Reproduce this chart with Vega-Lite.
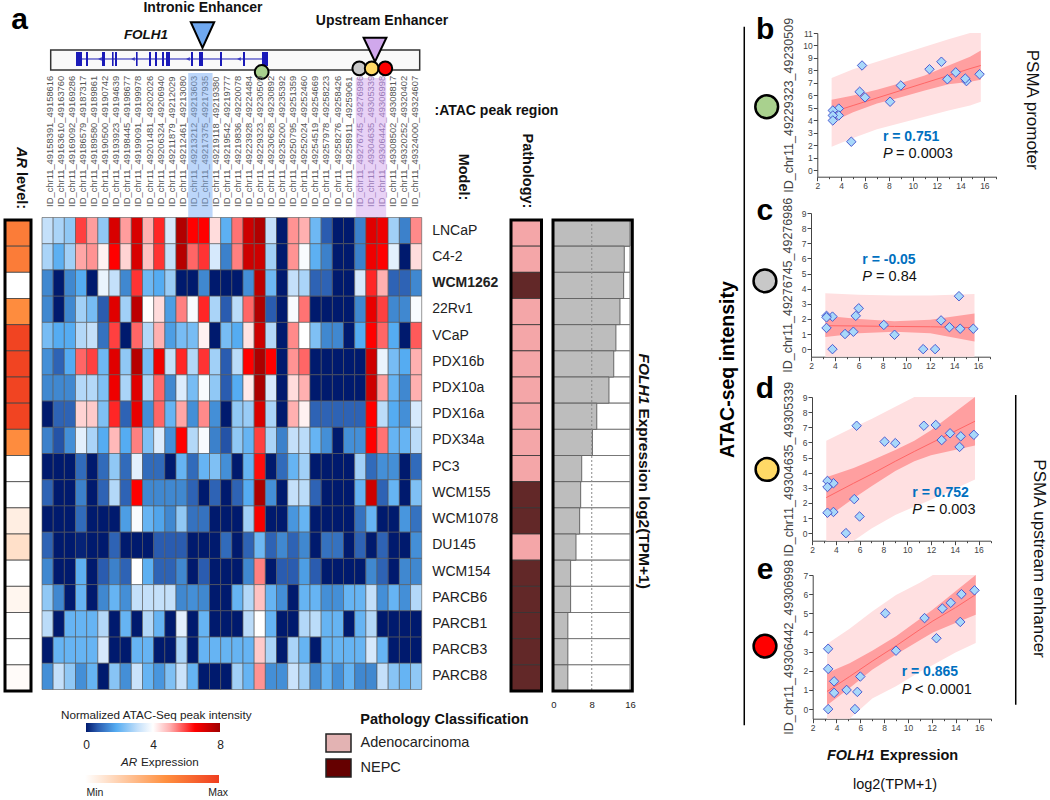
{"$schema":"https://vega.github.io/schema/vega-lite/v6.json","padding":0,"background":"white","config":{"font":"Liberation Sans","view":{"stroke":null},"axis":{"grid":false,"labelFontSize":8.5,"labelColor":"#444","tickColor":"#444","domainColor":"#444","labelOverlap":false,"labelFlush":false},"title":{"font":"Liberation Sans"}},
"datasets":{
"models":[
{"model":"LNCaP","ar":0.7,"pathology":"Adenocarcinoma","expr":16,"x":15.6,"b":7.7,"c":1.35,"d":6.5,"e":6.2},
{"model":"C4-2","ar":0.7,"pathology":"Adenocarcinoma","expr":14.8,"x":14.5,"b":7.15,"c":1.35,"d":6.4,"e":6.0},
{"model":"WCM1262","ar":0,"pathology":"NEPC","expr":14.67,"x":14.4,"b":7.35,"c":3.5,"d":5.7,"e":4.55},
{"model":"22Rv1","ar":0.62,"pathology":"Adenocarcinoma","expr":13.9,"x":13.6,"b":7.85,"c":1.45,"d":6.6,"e":5.55},
{"model":"VCaP","ar":0.97,"pathology":"Adenocarcinoma","expr":13.05,"x":12.9,"b":7.3,"c":1.9,"d":6.15,"e":5.25},
{"model":"PDX16b","ar":0.97,"pathology":"Adenocarcinoma","expr":12.6,"x":12.4,"b":8.7,"c":0,"d":7.15,"e":3.7},
{"model":"PDX10a","ar":0.97,"pathology":"Adenocarcinoma","expr":11.6,"x":11.4,"b":8.1,"c":0,"d":7.1,"e":4.75},
{"model":"PDX16a","ar":0.97,"pathology":"Adenocarcinoma","expr":9.05,"x":9,"b":6.8,"c":0.95,"d":5.95,"e":3.05},
{"model":"PDX34a","ar":0.62,"pathology":"Adenocarcinoma","expr":8.14,"x":8.1,"b":5.5,"c":1.6,"d":6.05,"e":5.0},
{"model":"PC3","ar":0,"pathology":"Adenocarcinoma","expr":5.9,"x":6,"b":5.85,"c":2.7,"d":1.1,"e":1.7},
{"model":"WCM155","ar":0,"pathology":"NEPC","expr":5.68,"x":5.75,"b":8.4,"c":2.2,"d":7.1,"e":0.9},
{"model":"WCM1078","ar":0.09,"pathology":"NEPC","expr":5.47,"x":5.55,"b":6.3,"c":1.15,"d":2.25,"e":0},
{"model":"DU145","ar":0.17,"pathology":"Adenocarcinoma","expr":4.7,"x":4.85,"b":2.3,"c":1.0,"d":0,"e":1.0},
{"model":"WCM154","ar":0,"pathology":"NEPC","expr":3.58,"x":3.8,"b":4.95,"c":2.15,"d":3.3,"e":1.45},
{"model":"PARCB6","ar":0.05,"pathology":"NEPC","expr":3.58,"x":3.8,"b":4.4,"c":0,"d":1.4,"e":0.85},
{"model":"PARCB1","ar":0,"pathology":"NEPC","expr":3.0,"x":3.3,"b":4.8,"c":2.2,"d":3.45,"e":3.15},
{"model":"PARCB3","ar":0,"pathology":"NEPC","expr":3.0,"x":3.3,"b":4.4,"c":2.1,"d":3.05,"e":2.1},
{"model":"PARCB8","ar":0.02,"pathology":"NEPC","expr":3.0,"x":3.3,"b":4.0,"c":1.4,"d":1.35,"e":0}],
"fit_b":[{"x":3.2,"ciLo":3.85,"ciHi":5.65,"piLo":1.9,"piHi":7.4,"fit":4.65},{"x":5,"ciLo":4.65,"ciHi":6.0,"piLo":2.6,"piHi":8.1,"fit":5.2},{"x":7,"ciLo":5.35,"ciHi":6.45,"piLo":3.3,"piHi":8.7,"fit":5.8},{"x":9,"ciLo":5.85,"ciHi":7.0,"piLo":3.8,"piHi":9.3,"fit":6.4},{"x":11,"ciLo":6.4,"ciHi":7.6,"piLo":4.3,"piHi":9.9,"fit":7.0},{"x":13,"ciLo":6.9,"ciHi":8.4,"piLo":4.8,"piHi":10.5,"fit":7.6},{"x":14.8,"ciLo":7.1,"ciHi":9.1,"piLo":5.2,"piHi":11,"fit":8.15},{"x":15.7,"ciLo":7.25,"ciHi":9.6,"piLo":5.5,"piHi":11,"fit":8.4}],
"fit_c":[{"x":3.2,"ciLo":0.8,"ciHi":2.2,"piLo":-0.5,"piHi":3.7,"fit":1.55},{"x":6,"ciLo":1.05,"ciHi":2.0,"piLo":-0.5,"piHi":3.6,"fit":1.53},{"x":9,"ciLo":1.15,"ciHi":1.85,"piLo":-0.5,"piHi":3.55,"fit":1.5},{"x":12,"ciLo":1.05,"ciHi":1.95,"piLo":-0.5,"piHi":3.55,"fit":1.48},{"x":15.7,"ciLo":0.5,"ciHi":2.35,"piLo":-0.5,"piHi":3.65,"fit":1.42}],
"fit_d":[{"x":3.2,"ciLo":1.0,"ciHi":3.7,"piLo":-0.5,"piHi":6.1,"fit":2.35},{"x":5.5,"ciLo":2.3,"ciHi":4.3,"piLo":-0.5,"piHi":7.0,"fit":3.3},{"x":7,"ciLo":3.1,"ciHi":4.8,"piLo":0.3,"piHi":7.55,"fit":3.9},{"x":9,"ciLo":4.1,"ciHi":5.5,"piLo":1.2,"piHi":8.35,"fit":4.75},{"x":10.6,"ciLo":4.75,"ciHi":6.1,"piLo":1.75,"piHi":9,"fit":5.4},{"x":12,"ciLo":5.15,"ciHi":6.8,"piLo":2.2,"piHi":9,"fit":5.95},{"x":15.7,"ciLo":5.8,"ciHi":9,"piLo":3.55,"piHi":9,"fit":7.4}],
"fit_e":[{"x":3.2,"ciLo":0.2,"ciHi":1.88,"piLo":-0.5,"piHi":3.4,"fit":0.92},{"x":5.1,"ciLo":1.1,"ciHi":2.4,"piLo":-0.5,"piHi":4.2,"fit":1.7},{"x":7,"ciLo":2.05,"ciHi":3.05,"piLo":0.55,"piHi":5.1,"fit":2.5},{"x":9,"ciLo":2.85,"ciHi":3.8,"piLo":1.2,"piHi":5.95,"fit":3.3},{"x":11,"ciLo":3.6,"ciHi":4.7,"piLo":1.95,"piHi":6.6,"fit":4.15},{"x":12.1,"ciLo":4.0,"ciHi":5.2,"piLo":2.3,"piHi":7,"fit":4.6},{"x":14,"ciLo":4.5,"ciHi":6.15,"piLo":2.95,"piHi":7,"fit":5.3},{"x":15.7,"ciLo":4.93,"ciHi":7,"piLo":3.45,"piHi":7,"fit":5.98}],
"atac":[
{"model":"LNCaP","col":1,"v":3.1},{"model":"LNCaP","col":2,"v":2.8},{"model":"LNCaP","col":3,"v":2.5},{"model":"LNCaP","col":4,"v":6},{"model":"LNCaP","col":5,"v":5.2},{"model":"LNCaP","col":6,"v":2.5},{"model":"LNCaP","col":7,"v":7},{"model":"LNCaP","col":8,"v":5.2},{"model":"LNCaP","col":9,"v":7},{"model":"LNCaP","col":10,"v":5},{"model":"LNCaP","col":11,"v":6.2},{"model":"LNCaP","col":12,"v":3.4},{"model":"LNCaP","col":13,"v":7.7},{"model":"LNCaP","col":14,"v":6.5},{"model":"LNCaP","col":15,"v":6.5},{"model":"LNCaP","col":16,"v":4.5},{"model":"LNCaP","col":17,"v":1.9},{"model":"LNCaP","col":18,"v":5.6},{"model":"LNCaP","col":19,"v":7.2},{"model":"LNCaP","col":20,"v":7.7},{"model":"LNCaP","col":21,"v":3.1},{"model":"LNCaP","col":22,"v":0},{"model":"LNCaP","col":23,"v":5.3},{"model":"LNCaP","col":24,"v":5},{"model":"LNCaP","col":25,"v":2.1},{"model":"LNCaP","col":26,"v":0.7},{"model":"LNCaP","col":27,"v":0},{"model":"LNCaP","col":28,"v":0},{"model":"LNCaP","col":29,"v":1.2},{"model":"LNCaP","col":30,"v":6.9},{"model":"LNCaP","col":31,"v":6.7},{"model":"LNCaP","col":32,"v":2.7},{"model":"LNCaP","col":33,"v":1.2},{"model":"LNCaP","col":34,"v":5.4},
{"model":"C4-2","col":1,"v":2.8},{"model":"C4-2","col":2,"v":1.9},{"model":"C4-2","col":3,"v":2.7},{"model":"C4-2","col":4,"v":5.1},{"model":"C4-2","col":5,"v":5.3},{"model":"C4-2","col":6,"v":4.2},{"model":"C4-2","col":7,"v":6.5},{"model":"C4-2","col":8,"v":4.6},{"model":"C4-2","col":9,"v":7},{"model":"C4-2","col":10,"v":4.8},{"model":"C4-2","col":11,"v":6.1},{"model":"C4-2","col":12,"v":3.1},{"model":"C4-2","col":13,"v":7.6},{"model":"C4-2","col":14,"v":5.7},{"model":"C4-2","col":15,"v":6.1},{"model":"C4-2","col":16,"v":3.4},{"model":"C4-2","col":17,"v":1.2},{"model":"C4-2","col":18,"v":5.5},{"model":"C4-2","col":19,"v":7.2},{"model":"C4-2","col":20,"v":7.2},{"model":"C4-2","col":21,"v":2.7},{"model":"C4-2","col":22,"v":0},{"model":"C4-2","col":23,"v":5.3},{"model":"C4-2","col":24,"v":3.9},{"model":"C4-2","col":25,"v":1.9},{"model":"C4-2","col":26,"v":1.2},{"model":"C4-2","col":27,"v":0},{"model":"C4-2","col":28,"v":0},{"model":"C4-2","col":29,"v":1.2},{"model":"C4-2","col":30,"v":6.7},{"model":"C4-2","col":31,"v":6.5},{"model":"C4-2","col":32,"v":3.6},{"model":"C4-2","col":33,"v":0},{"model":"C4-2","col":34,"v":4.5},
{"model":"WCM1262","col":1,"v":1.3},{"model":"WCM1262","col":2,"v":0},{"model":"WCM1262","col":3,"v":1.3},{"model":"WCM1262","col":4,"v":1.8},{"model":"WCM1262","col":5,"v":0},{"model":"WCM1262","col":6,"v":3.7},{"model":"WCM1262","col":7,"v":3.1},{"model":"WCM1262","col":8,"v":1.3},{"model":"WCM1262","col":9,"v":6.1},{"model":"WCM1262","col":10,"v":2.1},{"model":"WCM1262","col":11,"v":1.8},{"model":"WCM1262","col":12,"v":2.6},{"model":"WCM1262","col":13,"v":0},{"model":"WCM1262","col":14,"v":0},{"model":"WCM1262","col":15,"v":1.3},{"model":"WCM1262","col":16,"v":0},{"model":"WCM1262","col":17,"v":0},{"model":"WCM1262","col":18,"v":0},{"model":"WCM1262","col":19,"v":1.4},{"model":"WCM1262","col":20,"v":7.5},{"model":"WCM1262","col":21,"v":2.1},{"model":"WCM1262","col":22,"v":0},{"model":"WCM1262","col":23,"v":3.1},{"model":"WCM1262","col":24,"v":2.8},{"model":"WCM1262","col":25,"v":0.8},{"model":"WCM1262","col":26,"v":0.8},{"model":"WCM1262","col":27,"v":0},{"model":"WCM1262","col":28,"v":0},{"model":"WCM1262","col":29,"v":3.4},{"model":"WCM1262","col":30,"v":6.2},{"model":"WCM1262","col":31,"v":5},{"model":"WCM1262","col":32,"v":0.8},{"model":"WCM1262","col":33,"v":0.8},{"model":"WCM1262","col":34,"v":1.3},
{"model":"22Rv1","col":1,"v":1.3},{"model":"22Rv1","col":2,"v":0},{"model":"22Rv1","col":3,"v":1.3},{"model":"22Rv1","col":4,"v":2.7},{"model":"22Rv1","col":5,"v":2.2},{"model":"22Rv1","col":6,"v":0.7},{"model":"22Rv1","col":7,"v":6.9},{"model":"22Rv1","col":8,"v":2.7},{"model":"22Rv1","col":9,"v":7.5},{"model":"22Rv1","col":10,"v":4},{"model":"22Rv1","col":11,"v":4.5},{"model":"22Rv1","col":12,"v":1.6},{"model":"22Rv1","col":13,"v":5.5},{"model":"22Rv1","col":14,"v":3.9},{"model":"22Rv1","col":15,"v":6.2},{"model":"22Rv1","col":16,"v":2.8},{"model":"22Rv1","col":17,"v":0.7},{"model":"22Rv1","col":18,"v":3},{"model":"22Rv1","col":19,"v":5.7},{"model":"22Rv1","col":20,"v":7.7},{"model":"22Rv1","col":21,"v":0.7},{"model":"22Rv1","col":22,"v":0},{"model":"22Rv1","col":23,"v":3.9},{"model":"22Rv1","col":24,"v":5.6},{"model":"22Rv1","col":25,"v":0},{"model":"22Rv1","col":26,"v":0},{"model":"22Rv1","col":27,"v":0},{"model":"22Rv1","col":28,"v":0},{"model":"22Rv1","col":29,"v":1.3},{"model":"22Rv1","col":30,"v":6.8},{"model":"22Rv1","col":31,"v":6},{"model":"22Rv1","col":32,"v":1.3},{"model":"22Rv1","col":33,"v":1.3},{"model":"22Rv1","col":34,"v":3.9},
{"model":"VCaP","col":1,"v":2.2},{"model":"VCaP","col":2,"v":1.8},{"model":"VCaP","col":3,"v":1.8},{"model":"VCaP","col":4,"v":2.9},{"model":"VCaP","col":5,"v":3.1},{"model":"VCaP","col":6,"v":1},{"model":"VCaP","col":7,"v":6},{"model":"VCaP","col":8,"v":0},{"model":"VCaP","col":9,"v":5.7},{"model":"VCaP","col":10,"v":2.9},{"model":"VCaP","col":11,"v":5},{"model":"VCaP","col":12,"v":1.6},{"model":"VCaP","col":13,"v":2.2},{"model":"VCaP","col":14,"v":2.2},{"model":"VCaP","col":15,"v":4.2},{"model":"VCaP","col":16,"v":0},{"model":"VCaP","col":17,"v":2.2},{"model":"VCaP","col":18,"v":1.8},{"model":"VCaP","col":19,"v":4.4},{"model":"VCaP","col":20,"v":7.2},{"model":"VCaP","col":21,"v":2.9},{"model":"VCaP","col":22,"v":0},{"model":"VCaP","col":23,"v":5.4},{"model":"VCaP","col":24,"v":4},{"model":"VCaP","col":25,"v":2.3},{"model":"VCaP","col":26,"v":1.3},{"model":"VCaP","col":27,"v":1.3},{"model":"VCaP","col":28,"v":0},{"model":"VCaP","col":29,"v":1.8},{"model":"VCaP","col":30,"v":6.5},{"model":"VCaP","col":31,"v":5.7},{"model":"VCaP","col":32,"v":1.8},{"model":"VCaP","col":33,"v":0},{"model":"VCaP","col":34,"v":5.8},
{"model":"PDX16b","col":1,"v":1.4},{"model":"PDX16b","col":2,"v":0.8},{"model":"PDX16b","col":3,"v":1.8},{"model":"PDX16b","col":4,"v":5.7},{"model":"PDX16b","col":5,"v":6},{"model":"PDX16b","col":6,"v":2.1},{"model":"PDX16b","col":7,"v":6.9},{"model":"PDX16b","col":8,"v":2.5},{"model":"PDX16b","col":9,"v":7.6},{"model":"PDX16b","col":10,"v":2.2},{"model":"PDX16b","col":11,"v":6.7},{"model":"PDX16b","col":12,"v":3.1},{"model":"PDX16b","col":13,"v":6.2},{"model":"PDX16b","col":14,"v":2.9},{"model":"PDX16b","col":15,"v":6.1},{"model":"PDX16b","col":16,"v":2.7},{"model":"PDX16b","col":17,"v":0.7},{"model":"PDX16b","col":18,"v":3},{"model":"PDX16b","col":19,"v":6.5},{"model":"PDX16b","col":20,"v":7.8},{"model":"PDX16b","col":21,"v":6.5},{"model":"PDX16b","col":22,"v":0},{"model":"PDX16b","col":23,"v":5.3},{"model":"PDX16b","col":24,"v":5.7},{"model":"PDX16b","col":25,"v":0},{"model":"PDX16b","col":26,"v":0},{"model":"PDX16b","col":27,"v":0},{"model":"PDX16b","col":28,"v":0},{"model":"PDX16b","col":29,"v":0},{"model":"PDX16b","col":30,"v":7.2},{"model":"PDX16b","col":31,"v":3.7},{"model":"PDX16b","col":32,"v":2.2},{"model":"PDX16b","col":33,"v":1.8},{"model":"PDX16b","col":34,"v":5},
{"model":"PDX10a","col":1,"v":1.3},{"model":"PDX10a","col":2,"v":1.3},{"model":"PDX10a","col":3,"v":1.3},{"model":"PDX10a","col":4,"v":2.9},{"model":"PDX10a","col":5,"v":2.9},{"model":"PDX10a","col":6,"v":2.3},{"model":"PDX10a","col":7,"v":6.7},{"model":"PDX10a","col":8,"v":2.8},{"model":"PDX10a","col":9,"v":6.9},{"model":"PDX10a","col":10,"v":2.8},{"model":"PDX10a","col":11,"v":5.7},{"model":"PDX10a","col":12,"v":1.3},{"model":"PDX10a","col":13,"v":3.5},{"model":"PDX10a","col":14,"v":2.2},{"model":"PDX10a","col":15,"v":3.9},{"model":"PDX10a","col":16,"v":2.5},{"model":"PDX10a","col":17,"v":0.7},{"model":"PDX10a","col":18,"v":1.8},{"model":"PDX10a","col":19,"v":4.3},{"model":"PDX10a","col":20,"v":7.8},{"model":"PDX10a","col":21,"v":3.4},{"model":"PDX10a","col":22,"v":0},{"model":"PDX10a","col":23,"v":4.5},{"model":"PDX10a","col":24,"v":5},{"model":"PDX10a","col":25,"v":0},{"model":"PDX10a","col":26,"v":0},{"model":"PDX10a","col":27,"v":0},{"model":"PDX10a","col":28,"v":0},{"model":"PDX10a","col":29,"v":0},{"model":"PDX10a","col":30,"v":7.2},{"model":"PDX10a","col":31,"v":5.2},{"model":"PDX10a","col":32,"v":2},{"model":"PDX10a","col":33,"v":1.3},{"model":"PDX10a","col":34,"v":5},
{"model":"PDX16a","col":1,"v":0},{"model":"PDX16a","col":2,"v":0.8},{"model":"PDX16a","col":3,"v":0.8},{"model":"PDX16a","col":4,"v":4.6},{"model":"PDX16a","col":5,"v":4.7},{"model":"PDX16a","col":6,"v":2.3},{"model":"PDX16a","col":7,"v":6.2},{"model":"PDX16a","col":8,"v":0.8},{"model":"PDX16a","col":9,"v":6.8},{"model":"PDX16a","col":10,"v":1.4},{"model":"PDX16a","col":11,"v":5.7},{"model":"PDX16a","col":12,"v":2},{"model":"PDX16a","col":13,"v":5.1},{"model":"PDX16a","col":14,"v":1.4},{"model":"PDX16a","col":15,"v":5.4},{"model":"PDX16a","col":16,"v":1.4},{"model":"PDX16a","col":17,"v":0},{"model":"PDX16a","col":18,"v":2.5},{"model":"PDX16a","col":19,"v":2.6},{"model":"PDX16a","col":20,"v":7},{"model":"PDX16a","col":21,"v":2.8},{"model":"PDX16a","col":22,"v":0},{"model":"PDX16a","col":23,"v":5},{"model":"PDX16a","col":24,"v":4.2},{"model":"PDX16a","col":25,"v":0.8},{"model":"PDX16a","col":26,"v":0.8},{"model":"PDX16a","col":27,"v":0.8},{"model":"PDX16a","col":28,"v":0.8},{"model":"PDX16a","col":29,"v":0.8},{"model":"PDX16a","col":30,"v":6.5},{"model":"PDX16a","col":31,"v":3},{"model":"PDX16a","col":32,"v":1.8},{"model":"PDX16a","col":33,"v":1.4},{"model":"PDX16a","col":34,"v":3.4},
{"model":"PDX34a","col":1,"v":1.2},{"model":"PDX34a","col":2,"v":0.6},{"model":"PDX34a","col":3,"v":1.4},{"model":"PDX34a","col":4,"v":3.6},{"model":"PDX34a","col":5,"v":2.8},{"model":"PDX34a","col":6,"v":1.8},{"model":"PDX34a","col":7,"v":4.9},{"model":"PDX34a","col":8,"v":1.8},{"model":"PDX34a","col":9,"v":5.5},{"model":"PDX34a","col":10,"v":2.3},{"model":"PDX34a","col":11,"v":3.5},{"model":"PDX34a","col":12,"v":1.4},{"model":"PDX34a","col":13,"v":6.5},{"model":"PDX34a","col":14,"v":2.9},{"model":"PDX34a","col":15,"v":3.9},{"model":"PDX34a","col":16,"v":1.2},{"model":"PDX34a","col":17,"v":0.6},{"model":"PDX34a","col":18,"v":2.5},{"model":"PDX34a","col":19,"v":2},{"model":"PDX34a","col":20,"v":6},{"model":"PDX34a","col":21,"v":2.8},{"model":"PDX34a","col":22,"v":1.2},{"model":"PDX34a","col":23,"v":3.1},{"model":"PDX34a","col":24,"v":3},{"model":"PDX34a","col":25,"v":2},{"model":"PDX34a","col":26,"v":1.4},{"model":"PDX34a","col":27,"v":0},{"model":"PDX34a","col":28,"v":1.4},{"model":"PDX34a","col":29,"v":1.4},{"model":"PDX34a","col":30,"v":6.5},{"model":"PDX34a","col":31,"v":5.6},{"model":"PDX34a","col":32,"v":2},{"model":"PDX34a","col":33,"v":2},{"model":"PDX34a","col":34,"v":3},
{"model":"PC3","col":1,"v":0},{"model":"PC3","col":2,"v":0},{"model":"PC3","col":3,"v":0},{"model":"PC3","col":4,"v":0.9},{"model":"PC3","col":5,"v":0},{"model":"PC3","col":6,"v":0.9},{"model":"PC3","col":7,"v":2.5},{"model":"PC3","col":8,"v":0.9},{"model":"PC3","col":9,"v":3.6},{"model":"PC3","col":10,"v":0.9},{"model":"PC3","col":11,"v":0.9},{"model":"PC3","col":12,"v":0},{"model":"PC3","col":13,"v":2},{"model":"PC3","col":14,"v":0.9},{"model":"PC3","col":15,"v":2},{"model":"PC3","col":16,"v":2.3},{"model":"PC3","col":17,"v":1.4},{"model":"PC3","col":18,"v":0},{"model":"PC3","col":19,"v":2},{"model":"PC3","col":20,"v":6.4},{"model":"PC3","col":21,"v":0},{"model":"PC3","col":22,"v":0.9},{"model":"PC3","col":23,"v":2},{"model":"PC3","col":24,"v":2.7},{"model":"PC3","col":25,"v":0},{"model":"PC3","col":26,"v":0},{"model":"PC3","col":27,"v":0},{"model":"PC3","col":28,"v":0},{"model":"PC3","col":29,"v":2.7},{"model":"PC3","col":30,"v":0.9},{"model":"PC3","col":31,"v":1.4},{"model":"PC3","col":32,"v":1.4},{"model":"PC3","col":33,"v":0},{"model":"PC3","col":34,"v":0.9},
{"model":"WCM155","col":1,"v":0.8},{"model":"WCM155","col":2,"v":0},{"model":"WCM155","col":3,"v":0},{"model":"WCM155","col":4,"v":1.2},{"model":"WCM155","col":5,"v":0},{"model":"WCM155","col":6,"v":0.8},{"model":"WCM155","col":7,"v":2.9},{"model":"WCM155","col":8,"v":0.8},{"model":"WCM155","col":9,"v":6.5},{"model":"WCM155","col":10,"v":1.3},{"model":"WCM155","col":11,"v":1.3},{"model":"WCM155","col":12,"v":1.3},{"model":"WCM155","col":13,"v":1.3},{"model":"WCM155","col":14,"v":0.8},{"model":"WCM155","col":15,"v":0},{"model":"WCM155","col":16,"v":0.8},{"model":"WCM155","col":17,"v":0},{"model":"WCM155","col":18,"v":0.8},{"model":"WCM155","col":19,"v":1.8},{"model":"WCM155","col":20,"v":7.8},{"model":"WCM155","col":21,"v":1.4},{"model":"WCM155","col":22,"v":0},{"model":"WCM155","col":23,"v":3.1},{"model":"WCM155","col":24,"v":3},{"model":"WCM155","col":25,"v":0.8},{"model":"WCM155","col":26,"v":0},{"model":"WCM155","col":27,"v":0},{"model":"WCM155","col":28,"v":0},{"model":"WCM155","col":29,"v":2},{"model":"WCM155","col":30,"v":7.2},{"model":"WCM155","col":31,"v":0.8},{"model":"WCM155","col":32,"v":2},{"model":"WCM155","col":33,"v":0},{"model":"WCM155","col":34,"v":2.3},
{"model":"WCM1078","col":1,"v":0},{"model":"WCM1078","col":2,"v":0},{"model":"WCM1078","col":3,"v":0},{"model":"WCM1078","col":4,"v":0.9},{"model":"WCM1078","col":5,"v":0},{"model":"WCM1078","col":6,"v":0},{"model":"WCM1078","col":7,"v":0},{"model":"WCM1078","col":8,"v":1.6},{"model":"WCM1078","col":9,"v":3.9},{"model":"WCM1078","col":10,"v":2},{"model":"WCM1078","col":11,"v":1.7},{"model":"WCM1078","col":12,"v":1.3},{"model":"WCM1078","col":13,"v":2.5},{"model":"WCM1078","col":14,"v":1},{"model":"WCM1078","col":15,"v":1},{"model":"WCM1078","col":16,"v":0},{"model":"WCM1078","col":17,"v":0},{"model":"WCM1078","col":18,"v":0},{"model":"WCM1078","col":19,"v":2.7},{"model":"WCM1078","col":20,"v":6.6},{"model":"WCM1078","col":21,"v":0},{"model":"WCM1078","col":22,"v":0},{"model":"WCM1078","col":23,"v":1.5},{"model":"WCM1078","col":24,"v":2},{"model":"WCM1078","col":25,"v":0},{"model":"WCM1078","col":26,"v":0},{"model":"WCM1078","col":27,"v":0},{"model":"WCM1078","col":28,"v":0},{"model":"WCM1078","col":29,"v":1},{"model":"WCM1078","col":30,"v":2},{"model":"WCM1078","col":31,"v":0},{"model":"WCM1078","col":32,"v":0},{"model":"WCM1078","col":33,"v":1.5},{"model":"WCM1078","col":34,"v":1},
{"model":"DU145","col":1,"v":0.8},{"model":"DU145","col":2,"v":0},{"model":"DU145","col":3,"v":0},{"model":"DU145","col":4,"v":0.1},{"model":"DU145","col":5,"v":0},{"model":"DU145","col":6,"v":0},{"model":"DU145","col":7,"v":0.8},{"model":"DU145","col":8,"v":0},{"model":"DU145","col":9,"v":0},{"model":"DU145","col":10,"v":0},{"model":"DU145","col":11,"v":0.7},{"model":"DU145","col":12,"v":0.7},{"model":"DU145","col":13,"v":0.7},{"model":"DU145","col":14,"v":0},{"model":"DU145","col":15,"v":0},{"model":"DU145","col":16,"v":0},{"model":"DU145","col":17,"v":0.9},{"model":"DU145","col":18,"v":0},{"model":"DU145","col":19,"v":0.8},{"model":"DU145","col":20,"v":2.1},{"model":"DU145","col":21,"v":0.8},{"model":"DU145","col":22,"v":1.3},{"model":"DU145","col":23,"v":0.8},{"model":"DU145","col":24,"v":1.3},{"model":"DU145","col":25,"v":0},{"model":"DU145","col":26,"v":1},{"model":"DU145","col":27,"v":1},{"model":"DU145","col":28,"v":0},{"model":"DU145","col":29,"v":0.8},{"model":"DU145","col":30,"v":0},{"model":"DU145","col":31,"v":0.8},{"model":"DU145","col":32,"v":0},{"model":"DU145","col":33,"v":0},{"model":"DU145","col":34,"v":1.4},
{"model":"WCM154","col":1,"v":1.3},{"model":"WCM154","col":2,"v":0},{"model":"WCM154","col":3,"v":0},{"model":"WCM154","col":4,"v":1.9},{"model":"WCM154","col":5,"v":0},{"model":"WCM154","col":6,"v":0.7},{"model":"WCM154","col":7,"v":1.2},{"model":"WCM154","col":8,"v":0.8},{"model":"WCM154","col":9,"v":4},{"model":"WCM154","col":10,"v":1.9},{"model":"WCM154","col":11,"v":0.8},{"model":"WCM154","col":12,"v":0.8},{"model":"WCM154","col":13,"v":1.3},{"model":"WCM154","col":14,"v":0},{"model":"WCM154","col":15,"v":0.7},{"model":"WCM154","col":16,"v":0},{"model":"WCM154","col":17,"v":0},{"model":"WCM154","col":18,"v":0},{"model":"WCM154","col":19,"v":1.3},{"model":"WCM154","col":20,"v":5.5},{"model":"WCM154","col":21,"v":0},{"model":"WCM154","col":22,"v":0.7},{"model":"WCM154","col":23,"v":0.7},{"model":"WCM154","col":24,"v":1.6},{"model":"WCM154","col":25,"v":0.7},{"model":"WCM154","col":26,"v":0},{"model":"WCM154","col":27,"v":0},{"model":"WCM154","col":28,"v":0},{"model":"WCM154","col":29,"v":0},{"model":"WCM154","col":30,"v":1.3},{"model":"WCM154","col":31,"v":0.8},{"model":"WCM154","col":32,"v":0},{"model":"WCM154","col":33,"v":1.3},{"model":"WCM154","col":34,"v":1.3},
{"model":"PARCB6","col":1,"v":2.5},{"model":"PARCB6","col":2,"v":1.3},{"model":"PARCB6","col":3,"v":0},{"model":"PARCB6","col":4,"v":2},{"model":"PARCB6","col":5,"v":0},{"model":"PARCB6","col":6,"v":1.3},{"model":"PARCB6","col":7,"v":2},{"model":"PARCB6","col":8,"v":1.4},{"model":"PARCB6","col":9,"v":3.1},{"model":"PARCB6","col":10,"v":3.1},{"model":"PARCB6","col":11,"v":3.1},{"model":"PARCB6","col":12,"v":3.1},{"model":"PARCB6","col":13,"v":1.3},{"model":"PARCB6","col":14,"v":1.4},{"model":"PARCB6","col":15,"v":1.3},{"model":"PARCB6","col":16,"v":0},{"model":"PARCB6","col":17,"v":0},{"model":"PARCB6","col":18,"v":2},{"model":"PARCB6","col":19,"v":2.9},{"model":"PARCB6","col":20,"v":4.8},{"model":"PARCB6","col":21,"v":2},{"model":"PARCB6","col":22,"v":1.4},{"model":"PARCB6","col":23,"v":0},{"model":"PARCB6","col":24,"v":2},{"model":"PARCB6","col":25,"v":2},{"model":"PARCB6","col":26,"v":1.4},{"model":"PARCB6","col":27,"v":1.4},{"model":"PARCB6","col":28,"v":2},{"model":"PARCB6","col":29,"v":2},{"model":"PARCB6","col":30,"v":3.1},{"model":"PARCB6","col":31,"v":1.4},{"model":"PARCB6","col":32,"v":2},{"model":"PARCB6","col":33,"v":1.4},{"model":"PARCB6","col":34,"v":2.9},
{"model":"PARCB1","col":1,"v":3},{"model":"PARCB1","col":2,"v":0},{"model":"PARCB1","col":3,"v":2},{"model":"PARCB1","col":4,"v":2},{"model":"PARCB1","col":5,"v":2},{"model":"PARCB1","col":6,"v":2.9},{"model":"PARCB1","col":7,"v":0},{"model":"PARCB1","col":8,"v":2},{"model":"PARCB1","col":9,"v":0},{"model":"PARCB1","col":10,"v":2.9},{"model":"PARCB1","col":11,"v":2},{"model":"PARCB1","col":12,"v":0},{"model":"PARCB1","col":13,"v":3.6},{"model":"PARCB1","col":14,"v":0},{"model":"PARCB1","col":15,"v":2},{"model":"PARCB1","col":16,"v":0},{"model":"PARCB1","col":17,"v":0},{"model":"PARCB1","col":18,"v":0},{"model":"PARCB1","col":19,"v":3},{"model":"PARCB1","col":20,"v":4},{"model":"PARCB1","col":21,"v":2},{"model":"PARCB1","col":22,"v":0},{"model":"PARCB1","col":23,"v":0},{"model":"PARCB1","col":24,"v":2.9},{"model":"PARCB1","col":25,"v":3},{"model":"PARCB1","col":26,"v":2},{"model":"PARCB1","col":27,"v":2},{"model":"PARCB1","col":28,"v":0},{"model":"PARCB1","col":29,"v":2},{"model":"PARCB1","col":30,"v":2.9},{"model":"PARCB1","col":31,"v":0},{"model":"PARCB1","col":32,"v":0},{"model":"PARCB1","col":33,"v":0},{"model":"PARCB1","col":34,"v":0},
{"model":"PARCB3","col":1,"v":0},{"model":"PARCB3","col":2,"v":2},{"model":"PARCB3","col":3,"v":2},{"model":"PARCB3","col":4,"v":2},{"model":"PARCB3","col":5,"v":2},{"model":"PARCB3","col":6,"v":3.4},{"model":"PARCB3","col":7,"v":0},{"model":"PARCB3","col":8,"v":0},{"model":"PARCB3","col":9,"v":2},{"model":"PARCB3","col":10,"v":2},{"model":"PARCB3","col":11,"v":0},{"model":"PARCB3","col":12,"v":0},{"model":"PARCB3","col":13,"v":2.8},{"model":"PARCB3","col":14,"v":0},{"model":"PARCB3","col":15,"v":2},{"model":"PARCB3","col":16,"v":2},{"model":"PARCB3","col":17,"v":2},{"model":"PARCB3","col":18,"v":2},{"model":"PARCB3","col":19,"v":2},{"model":"PARCB3","col":20,"v":4.7},{"model":"PARCB3","col":21,"v":2.8},{"model":"PARCB3","col":22,"v":0},{"model":"PARCB3","col":23,"v":2.8},{"model":"PARCB3","col":24,"v":2},{"model":"PARCB3","col":25,"v":0},{"model":"PARCB3","col":26,"v":2},{"model":"PARCB3","col":27,"v":2},{"model":"PARCB3","col":28,"v":2},{"model":"PARCB3","col":29,"v":2},{"model":"PARCB3","col":30,"v":3.4},{"model":"PARCB3","col":31,"v":2},{"model":"PARCB3","col":32,"v":0},{"model":"PARCB3","col":33,"v":0},{"model":"PARCB3","col":34,"v":0},
{"model":"PARCB8","col":1,"v":1.4},{"model":"PARCB8","col":2,"v":3.1},{"model":"PARCB8","col":3,"v":2.5},{"model":"PARCB8","col":4,"v":1.4},{"model":"PARCB8","col":5,"v":2},{"model":"PARCB8","col":6,"v":0},{"model":"PARCB8","col":7,"v":2.4},{"model":"PARCB8","col":8,"v":1.4},{"model":"PARCB8","col":9,"v":3.2},{"model":"PARCB8","col":10,"v":2},{"model":"PARCB8","col":11,"v":1.5},{"model":"PARCB8","col":12,"v":2.3},{"model":"PARCB8","col":13,"v":3.2},{"model":"PARCB8","col":14,"v":2},{"model":"PARCB8","col":15,"v":0},{"model":"PARCB8","col":16,"v":0},{"model":"PARCB8","col":17,"v":0},{"model":"PARCB8","col":18,"v":2.7},{"model":"PARCB8","col":19,"v":2},{"model":"PARCB8","col":20,"v":5.3},{"model":"PARCB8","col":21,"v":1.4},{"model":"PARCB8","col":22,"v":1.4},{"model":"PARCB8","col":23,"v":3.2},{"model":"PARCB8","col":24,"v":2.7},{"model":"PARCB8","col":25,"v":1.3},{"model":"PARCB8","col":26,"v":2},{"model":"PARCB8","col":27,"v":1.4},{"model":"PARCB8","col":28,"v":2},{"model":"PARCB8","col":29,"v":1.3},{"model":"PARCB8","col":30,"v":1.3},{"model":"PARCB8","col":31,"v":3.1},{"model":"PARCB8","col":32,"v":2.4},{"model":"PARCB8","col":33,"v":2},{"model":"PARCB8","col":34,"v":2.5}]
},
"bounds":"flush","spacing":811,"resolve":{"scale":{"fill":"independent","color":"independent"}},
"hconcat":[
{"bounds":"flush","spacing":0,"resolve":{"scale":{"fill":"independent","color":"independent"}},"vconcat":[
{"width":640,"height":72,"layer":[
{"data":{"values":[{"from":49150.35,"to":49334.85,"top":0.3056,"bottom":0.0278}]},"mark":{"type":"rect","fill":"#f9f9f9","stroke":"#333","strokeWidth":1.5},"encoding":{"x":{"field":"from","type":"quantitative","scale":{"domain":[49125,49445],"nice":false,"zero":false},"axis":null},"x2":{"field":"to"},"y":{"field":"top","type":"quantitative","scale":{"domain":[0,1],"nice":false,"zero":false},"axis":null},"y2":{"field":"bottom"}}},
{"data":{"values":[{"from":49163,"to":49259,"lane":0.1806}]},"mark":{"type":"rule","color":"#1a1ab8","strokeWidth":1},"encoding":{"x":{"field":"from","type":"quantitative","axis":null},"x2":{"field":"to"},"y":{"field":"lane","type":"quantitative","axis":null}}},
{"data":{"values":[{"from":49163,"to":49166},{"from":49168,"to":49169},{"from":49176,"to":49177.5},{"from":49181,"to":49181.8},{"from":49182.5,"to":49183.5},{"from":49193,"to":49193.8},{"from":49199.5,"to":49200.5},{"from":49202.5,"to":49203.5},{"from":49206,"to":49207},{"from":49208,"to":49210},{"from":49220.5,"to":49221.5},{"from":49224.5,"to":49226.5},{"from":49235,"to":49236},{"from":49246.5,"to":49247.5},{"from":49256,"to":49259}]},"mark":{"type":"rect","fill":"#1a1ab8"},"encoding":{"x":{"field":"from","type":"quantitative","axis":null},"x2":{"field":"to"},"y":{"datum":0.2778,"axis":null},"y2":{"datum":0.0833}}},
{"data":{"values":[{"pos":49175},{"pos":49191.5},{"pos":49219},{"pos":49244.5}]},"mark":{"type":"point","shape":"triangle-left","filled":true,"color":"#1a1ab8","size":18},"encoding":{"x":{"field":"pos","type":"quantitative","axis":null},"y":{"datum":0.1806,"axis":null}}},
{"data":{"values":[{"pos":49226.25,"lane":0.514}]},"mark":{"type":"point","shape":"M-1,-1.1L1,-1.1L0,1.1Z","filled":true,"fill":"#6fa8f0","stroke":"#000","strokeWidth":2,"opacity":1,"size":547},"encoding":{"x":{"field":"pos","type":"quantitative","axis":null},"y":{"field":"lane","type":"quantitative","axis":null}}},
{"data":{"values":[{"pos":49312.5,"lane":0.31}]},"mark":{"type":"point","shape":"M-1,-1.05L1,-1.05L0,1.05Z","filled":true,"fill":"#d0a8ec","stroke":"#000","strokeWidth":2,"opacity":1,"size":520},"encoding":{"x":{"field":"pos","type":"quantitative","axis":null},"y":{"field":"lane","type":"quantitative","axis":null}}},
{"data":{"values":[{"pos":49255.85,"lane":0,"peak":"promoter"},{"pos":49304.65,"lane":0.051,"peak":"grey"},{"pos":49310.85,"lane":0.051,"peak":"yellow"},{"pos":49317.65,"lane":0.051,"peak":"red"}]},"mark":{"type":"point","shape":"circle","filled":true,"stroke":"#000","strokeWidth":2,"opacity":1,"size":190},"encoding":{"x":{"field":"pos","type":"quantitative","axis":null},"y":{"field":"lane","type":"quantitative","axis":null},"fill":{"field":"peak","type":"nominal","legend":null,"scale":{"domain":["promoter","grey","yellow","red"],"range":["#a9d18e","#c8c8c8","#ffd966","#ff0000"]}}}},
{"data":{"values":[{"label":"Intronic Enhancer","pos":49226.5,"lane":0.889},{"label":"Upstream Enhancer","pos":49316,"lane":0.708}]},"mark":{"type":"text","fontWeight":"bold","fontSize":14,"align":"center","baseline":"middle","color":"#111"},"encoding":{"x":{"field":"pos","type":"quantitative","axis":null},"y":{"field":"lane","type":"quantitative","axis":null},"text":{"field":"label"}}},
{"data":{"values":[{"label":"FOLH1","pos":49198,"lane":0.514}]},"mark":{"type":"text","fontWeight":"bold","fontStyle":"italic","fontSize":13.5,"align":"center","baseline":"middle","color":"#111"},"encoding":{"x":{"field":"pos","type":"quantitative","axis":null},"y":{"field":"lane","type":"quantitative","axis":null},"text":{"field":"label"}}},
{"data":{"values":[{"label":"a","pos":49134.75,"lane":0.722}]},"mark":{"type":"text","fontWeight":"bold","fontSize":30,"align":"center","baseline":"middle","color":"#000"},"encoding":{"x":{"field":"pos","type":"quantitative","axis":null},"y":{"field":"lane","type":"quantitative","axis":null},"text":{"field":"label"}}}
]},
{"width":640,"height":147.5,"layer":[
{"data":{"values":[{"region":"intronic","from":13.5,"to":15.7,"top":0.993},{"region":"upstream","from":28.65,"to":31.4,"top":0.96}]},"mark":{"type":"rect"},"encoding":{"x":{"field":"from","type":"quantitative","scale":{"domain":[-3.52,54.35],"nice":false,"zero":false},"axis":null},"x2":{"field":"to"},"y":{"field":"top","type":"quantitative","scale":{"domain":[0,1],"nice":false,"zero":false},"axis":null},"y2":{"datum":0},"fill":{"field":"region","type":"nominal","legend":null,"scale":{"domain":["intronic","upstream"],"range":["#bcd6fa","#e8d2f6"]}}}},
{"data":{"values":[
{"col":1,"id":"ID_chr11_49158391_49158616","region":"none"},{"col":2,"id":"ID_chr11_49163610_49163760","region":"none"},{"col":3,"id":"ID_chr11_49169092_49169286","region":"none"},{"col":4,"id":"ID_chr11_49186579_49187317","region":"none"},{"col":5,"id":"ID_chr11_49189580_49189861","region":"none"},{"col":6,"id":"ID_chr11_49190500_49190742","region":"none"},{"col":7,"id":"ID_chr11_49193923_49194639","region":"none"},{"col":8,"id":"ID_chr11_49198445_49198677","region":"none"},{"col":9,"id":"ID_chr11_49199091_49199978","region":"none"},{"col":10,"id":"ID_chr11_49201481_49202026","region":"none"},{"col":11,"id":"ID_chr11_49206324_49206940","region":"none"},{"col":12,"id":"ID_chr11_49211879_49212029","region":"none"},{"col":13,"id":"ID_chr11_49212461_49213080","region":"none"},{"col":14,"id":"ID_chr11_49213212_49213603","region":"intronic"},{"col":15,"id":"ID_chr11_49217375_49217935","region":"intronic"},{"col":16,"id":"ID_chr11_49219118_49219380","region":"none"},{"col":17,"id":"ID_chr11_49219542_49219777","region":"none"},{"col":18,"id":"ID_chr11_49219836_49220078","region":"none"},{"col":19,"id":"ID_chr11_49223928_49224484","region":"none"},{"col":20,"id":"ID_chr11_49229323_49230509","region":"none"},{"col":21,"id":"ID_chr11_49230628_49230892","region":"none"},{"col":22,"id":"ID_chr11_49235200_49235392","region":"none"},{"col":23,"id":"ID_chr11_49250795_49251359","region":"none"},{"col":24,"id":"ID_chr11_49252024_49252460","region":"none"},{"col":25,"id":"ID_chr11_49254519_49254669","region":"none"},{"col":26,"id":"ID_chr11_49257978_49258223","region":"none"},{"col":27,"id":"ID_chr11_49258276_49258426","region":"none"},{"col":28,"id":"ID_chr11_49258911_49259061","region":"none"},{"col":29,"id":"ID_chr11_49276745_49276986","region":"upstream"},{"col":30,"id":"ID_chr11_49304635_49305339","region":"upstream"},{"col":31,"id":"ID_chr11_49306442_49306998","region":"upstream"},{"col":32,"id":"ID_chr11_49308502_49308817","region":"none"},{"col":33,"id":"ID_chr11_49320252_49320402","region":"none"},{"col":34,"id":"ID_chr11_49324000_49324607","region":"none"}]},"mark":{"type":"text","angle":270,"align":"left","baseline":"middle","fontSize":9.4},"encoding":{"x":{"field":"col","type":"quantitative","axis":null},"y":{"datum":0.085,"axis":null},"text":{"field":"id"},"color":{"field":"region","type":"nominal","legend":null,"scale":{"domain":["none","intronic","upstream"],"range":["#555555","#6a7f9c","#9a7cb8"]}}}},
{"data":{"values":[{"label":":ATAC peak region","col":41.37,"lane":0.7376}]},"mark":{"type":"text","fontWeight":"bold","fontSize":14,"align":"center","baseline":"middle","color":"#111"},"encoding":{"x":{"field":"col","type":"quantitative","axis":null},"y":{"field":"lane","type":"quantitative","axis":null},"text":{"field":"label"}}},
{"data":{"values":[{"label":"Model:","col":38.34,"lane":0.288},{"label":"Pathology:","col":44.13,"lane":0.329}]},"mark":{"type":"text","fontWeight":"bold","fontSize":14.5,"angle":90,"align":"center","baseline":"middle","color":"#111"},"encoding":{"x":{"field":"col","type":"quantitative","axis":null},"y":{"field":"lane","type":"quantitative","axis":null},"text":{"field":"label"}}},
{"data":{"values":[{"label":"AR","col":-1.65,"lane":0.4915}]},"mark":{"type":"text","fontWeight":"bold","fontStyle":"italic","fontSize":14.5,"angle":90,"align":"left","baseline":"middle","color":"#111"},"encoding":{"x":{"field":"col","type":"quantitative","axis":null},"y":{"field":"lane","type":"quantitative","axis":null},"text":{"field":"label"}}},
{"data":{"values":[{"label":"level:","col":-1.65,"lane":0.322}]},"mark":{"type":"text","fontWeight":"bold","fontSize":14.5,"angle":90,"align":"left","baseline":"middle","color":"#111"},"encoding":{"x":{"field":"col","type":"quantitative","axis":null},"y":{"field":"lane","type":"quantitative","axis":null},"text":{"field":"label"}}}
]},
{"bounds":"flush","spacing":0,"resolve":{"scale":{"fill":"independent","color":"independent"}},"hconcat":[
{"width":5,"height":1,"data":{"values":[{}]},"mark":{"type":"rect","opacity":0},"encoding":{}},
{"width":26,"height":471,"layer":[
{"data":{"name":"models"},"mark":{"type":"rect","stroke":"#444","strokeWidth":0.8},"encoding":{"y":{"field":"model","type":"nominal","sort":null,"axis":null},"fill":{"field":"ar","type":"quantitative","legend":null,"scale":{"domain":[0,0.6,1],"range":["#ffffff","#ff9040","#f03e20"],"interpolate":"rgb"}}}},
{"data":{"values":[{}]},"mark":{"type":"rect","fill":null,"stroke":"#000","strokeWidth":3},"encoding":{}}
]},
{"width":11,"height":1,"data":{"values":[{}]},"mark":{"type":"rect","opacity":0},"encoding":{}},
{"width":379.7,"height":471,"data":{"name":"atac"},"mark":{"type":"rect","stroke":"#555","strokeWidth":0.6},"encoding":{"x":{"field":"col","type":"ordinal","axis":null},"y":{"field":"model","type":"nominal","sort":null,"scale":{"range":[-2.5,469.5]},"axis":{"orient":"right","title":null,"domain":false,"ticks":false,"labelFontSize":14,"labelColor":"#222","labelPadding":10,"labelFontWeight":{"condition":{"test":"datum.value=='WCM1262'","value":"bold"},"value":"normal"}}},"fill":{"field":"v","type":"quantitative","legend":null,"scale":{"domain":[0,0.7,1.3,1.8,2.5,3.1,3.5,4,4.5,5,5.5,6,6.5,7,8],"range":["#001a6e","#2a5cb0","#4088d0","#55acf2","#90c8f5","#c4e0fa","#dcecfc","#ffffff","#ffdcdc","#ffb0b0","#ff8080","#ff4040","#ff0000","#d80000","#a00000"],"interpolate":"rgb"}}}},
{"width":88.8,"height":1,"data":{"values":[{}]},"mark":{"type":"rect","opacity":0},"encoding":{}},
{"width":30.5,"height":471,"layer":[
{"data":{"name":"models"},"mark":{"type":"rect","stroke":"#333","strokeWidth":0.8},"encoding":{"y":{"field":"model","type":"nominal","sort":null,"axis":null},"fill":{"field":"pathology","type":"nominal","legend":null,"scale":{"domain":["Adenocarcinoma","NEPC"],"range":["#f4a6a8","#622828"]}}}},
{"data":{"values":[{}]},"mark":{"type":"rect","fill":null,"stroke":"#000","strokeWidth":3},"encoding":{}}
]},
{"width":10.5,"height":1,"data":{"values":[{}]},"mark":{"type":"rect","opacity":0},"encoding":{}},
{"width":79.3,"height":471,"resolve":{"scale":{"y":"independent"}},"layer":[
{"data":{"name":"models"},"mark":{"type":"rect","fill":"#ffffff","stroke":"#777","strokeWidth":1},"encoding":{"x":{"datum":0,"type":"quantitative","scale":{"domain":[0,16],"range":[0.5,77],"nice":false},"axis":{"values":[0,8,16],"tickCount":100,"format":"d","title":null,"ticks":false,"domain":false,"labelFontSize":9.5,"labelPadding":8,"labelColor":"#222","labelOverlap":false}},"x2":{"datum":16},"y":{"field":"model","type":"nominal","sort":null,"axis":null}}},
{"data":{"name":"models"},"mark":{"type":"rect","fill":"#bdbdbd","stroke":"#666","strokeWidth":1},"encoding":{"x":{"field":"expr","type":"quantitative"},"x2":{"datum":0},"y":{"field":"model","type":"nominal","sort":null,"axis":null}}},
{"data":{"values":[{"tick":8}]},"mark":{"type":"rule","color":"#888","strokeDash":[2,2],"strokeWidth":1},"encoding":{"x":{"field":"tick","type":"quantitative"}}},
{"data":{"values":[{}]},"mark":{"type":"rect","fill":null,"stroke":"#000","strokeWidth":3},"encoding":{}},
{"data":{"values":[{"label":"FOLH1","pos":19,"row":5.1}]},"mark":{"type":"text","fontWeight":"bold","fontStyle":"italic","fontSize":15.5,"angle":90,"align":"left","baseline":"middle","color":"#111"},"encoding":{"x":{"field":"pos","type":"quantitative"},"y":{"field":"row","type":"quantitative","axis":null,"scale":{"domain":[18,0],"nice":false}},"text":{"field":"label"}}},
{"data":{"values":[{"label":"Expression log2(TPM+1)","pos":19,"row":7.2}]},"mark":{"type":"text","fontWeight":"bold","fontSize":15.5,"angle":90,"align":"left","baseline":"middle","color":"#111"},"encoding":{"x":{"field":"pos","type":"quantitative"},"y":{"field":"row","type":"quantitative","axis":null,"scale":{"domain":[18,0],"nice":false}},"text":{"field":"label"}}}
]}
]},
{"width":1,"height":502.5,"data":{"values":[{}]},"mark":{"type":"rect","opacity":0},"encoding":{}},
{"bounds":"flush","spacing":0,"resolve":{"scale":{"fill":"independent","color":"independent"}},"hconcat":[
{"bounds":"flush","spacing":0,"vconcat":[
{"width":325.7,"height":9,"title":{"text":"Normalized ATAC-Seq peak intensity","anchor":"start","frame":"group","dx":61,"fontSize":11.7,"fontWeight":"normal","offset":1,"color":"#222"},"data":{"values":[{"lo":0,"hi":8}]},"mark":{"type":"rect","color":{"gradient":"linear","x1":0,"x2":1,"y1":0,"y2":0,"stops":[{"offset":0,"color":"#001a6e"},{"offset":0.0875,"color":"#2a5cb0"},{"offset":0.225,"color":"#55acf2"},{"offset":0.3875,"color":"#c4e0fa"},{"offset":0.5,"color":"#ffffff"},{"offset":0.625,"color":"#ffb0b0"},{"offset":0.8125,"color":"#ff0000"},{"offset":1,"color":"#a00000"}]}},"encoding":{"x":{"field":"lo","type":"quantitative","scale":{"domain":[0,8],"range":[86,220],"nice":false},"axis":{"values":[0,4,8],"tickCount":100,"format":"d","title":null,"ticks":false,"domain":false,"labelFontSize":12,"labelPadding":7,"labelColor":"#222","labelOverlap":false}},"x2":{"field":"hi"}}},
{"width":1,"height":43,"data":{"values":[{}]},"mark":{"type":"rect","opacity":0},"encoding":{}},
{"width":325.7,"height":8,"layer":[
{"data":{"values":[{"lo":0,"hi":1,"low":0,"high":1}]},"mark":{"type":"rect","color":{"gradient":"linear","x1":0,"x2":1,"y1":0,"y2":0,"stops":[{"offset":0,"color":"#ffffff"},{"offset":0.6,"color":"#ff9040"},{"offset":1,"color":"#f03e20"}]}},"encoding":{"x":{"field":"lo","type":"quantitative","scale":{"domain":[0,1],"range":[85,219],"nice":false},"axis":{"values":[0.07,0.99],"tickCount":100,"labelExpr":"datum.value<0.5?'Min':'Max'","title":null,"ticks":false,"domain":false,"labelFontSize":10.5,"labelPadding":4,"labelColor":"#222","labelOverlap":false}},"x2":{"field":"hi"},"y":{"field":"low","type":"quantitative","scale":{"domain":[0,1],"nice":false},"axis":null},"y2":{"field":"high"}}},
{"data":{"values":[{"label":"AR","pos":0.269,"lane":2.6}]},"mark":{"type":"text","fontStyle":"italic","fontSize":11.7,"align":"left","baseline":"middle","color":"#222"},"encoding":{"x":{"field":"pos","type":"quantitative"},"y":{"field":"lane","type":"quantitative","axis":null},"text":{"field":"label"}}},
{"data":{"values":[{"label":"Expression","pos":0.418,"lane":2.6}]},"mark":{"type":"text","fontSize":11.7,"align":"left","baseline":"middle","color":"#222"},"encoding":{"x":{"field":"pos","type":"quantitative"},"y":{"field":"lane","type":"quantitative","axis":null},"text":{"field":"label"}}}
]}
]},
{"width":325.7,"height":1,"data":{"values":[{}]},"mark":{"type":"rect","opacity":0},"encoding":{}},
{"width":25,"height":54,"title":{"text":"Pathology Classification","anchor":"start","frame":"group","dx":34.3,"dy":4,"fontSize":14.5,"fontWeight":"bold","offset":0,"color":"#111"},"data":{"values":[{"pathology":"Adenocarcinoma"},{"pathology":"NEPC"}]},"mark":{"type":"rect","stroke":"#222","strokeWidth":1.5},"encoding":{"y":{"field":"pathology","type":"nominal","scale":{"domain":["Adenocarcinoma","NEPC"],"range":[11,54],"paddingInner":0.28,"paddingOuter":0},"axis":{"orient":"right","title":null,"domain":false,"ticks":false,"labelFontSize":14.5,"labelPadding":9,"labelColor":"#222"}},"fill":{"field":"pathology","type":"nominal","legend":null,"scale":{"domain":["Adenocarcinoma","NEPC"],"range":["#e3b3b3","#650000"]}}}}
]}
]},
{"bounds":"flush","spacing":0,"resolve":{"scale":{"fill":"independent","color":"independent"}},"vconcat":[
{"width":1,"height":33,"data":{"values":[{}]},"mark":{"type":"rect","opacity":0},"encoding":{}},
{"width":180,"height":143.7,"layer":[
{"data":{"name":"fit_b"},"mark":{"type":"area","color":"#ffe0e1"},"encoding":{"x":{"field":"x","type":"quantitative","scale":{"domain":[2,17],"range":[6.3,185.3],"nice":false,"zero":false},"axis":{"values":[2,3,4,5,6,7,8,9,10,11,12,13,14,15,16,17],"tickCount":100,"format":"d","labelExpr":"datum.value%2==0&&datum.value<17?datum.label:''","tickSize":{"condition":{"test":"datum.value%2==0","value":4},"value":2},"title":null,"labelPadding":1,"labelOverlap":false}},"y":{"field":"piLo","type":"quantitative","scale":{"domain":[-0.5,11],"nice":false,"zero":false},"axis":{"values":[0,0.5,1,1.5,2,2.5,3,3.5,4,4.5,5,5.5,6,6.5,7,7.5,8,8.5,9,9.5,10,10.5,11],"tickCount":100,"format":"d","labelExpr":"datum.value%1==0?datum.label:''","tickSize":{"condition":{"test":"datum.value%1==0","value":4},"value":2},"title":"ID_chr11_49229323_49230509","titleFontSize":12.5,"titleFontWeight":"normal","titleColor":"#444","titlePadding":7,"labelPadding":1,"labelOverlap":false,"offset":-6.3}},"y2":{"field":"piHi"}}},
{"data":{"name":"fit_b"},"mark":{"type":"area","color":"#ff9fa0"},"encoding":{"x":{"field":"x","type":"quantitative"},"y":{"field":"ciLo","type":"quantitative"},"y2":{"field":"ciHi"}}},
{"data":{"name":"fit_b"},"mark":{"type":"line","color":"#ff6666","strokeWidth":1},"encoding":{"x":{"field":"x","type":"quantitative"},"y":{"field":"fit","type":"quantitative"}}},
{"data":{"name":"models"},"mark":{"type":"point","shape":"diamond","filled":true,"fill":"#a8d8fa","stroke":"#4a5ad0","strokeWidth":1,"opacity":1,"size":90},"encoding":{"x":{"field":"x","type":"quantitative"},"y":{"field":"b","type":"quantitative"}}},
{"data":{"values":[{"label":"r = 0.751","x":7.5,"y":2.64}]},"mark":{"type":"text","fontWeight":"bold","fontSize":14,"align":"left","baseline":"middle","color":"#0070c0"},"encoding":{"x":{"field":"x","type":"quantitative"},"y":{"field":"y","type":"quantitative"},"text":{"field":"label"}}},
{"data":{"values":[{"label":"P","x":7.5,"y":1.34}]},"mark":{"type":"text","fontStyle":"italic","fontSize":14.5,"align":"left","baseline":"middle","color":"#111"},"encoding":{"x":{"field":"x","type":"quantitative"},"y":{"field":"y","type":"quantitative"},"text":{"field":"label"}}},
{"data":{"values":[{"label":"= 0.0003","x":8.6,"y":1.34}]},"mark":{"type":"text","fontSize":14.5,"align":"left","baseline":"middle","color":"#111"},"encoding":{"x":{"field":"x","type":"quantitative"},"y":{"field":"y","type":"quantitative"},"text":{"field":"label"}}},
{"data":{"values":[{"label":"b","x":-2.38,"y":11.26}]},"mark":{"type":"text","fontWeight":"bold","fontSize":30,"align":"center","baseline":"middle","color":"#000"},"encoding":{"x":{"field":"x","type":"quantitative"},"y":{"field":"y","type":"quantitative"},"text":{"field":"label"}}},
{"data":{"values":[{"x":-2.24,"y":5.1}]},"mark":{"type":"point","shape":"circle","filled":true,"fill":"#a9d18e","stroke":"#000","strokeWidth":2.5,"opacity":1,"size":520},"encoding":{"x":{"field":"x","type":"quantitative"},"y":{"field":"y","type":"quantitative"}}},
{"data":{"values":[{"label":"PSMA promoter","x":19.97,"y":4.86}]},"mark":{"type":"text","fontSize":17,"angle":90,"align":"center","baseline":"middle","color":"#111"},"encoding":{"x":{"field":"x","type":"quantitative"},"y":{"field":"y","type":"quantitative"},"text":{"field":"label"}}},
{"data":{"values":[{"x":-4.12,"top":11.5,"bottom":-44.4}]},"mark":{"type":"rule","color":"#000","strokeWidth":1.5},"encoding":{"x":{"field":"x","type":"quantitative"},"y":{"field":"top","type":"quantitative"},"y2":{"field":"bottom"}}},
{"data":{"values":[{"label":"ATAC-seq intensity","x":-5.49,"y":-15.94}]},"mark":{"type":"text","fontWeight":"bold","fontSize":19.5,"angle":270,"align":"center","baseline":"middle","color":"#000"},"encoding":{"x":{"field":"x","type":"quantitative"},"y":{"field":"y","type":"quantitative"},"text":{"field":"label"}}}
]},
{"width":1,"height":35.3,"data":{"values":[{}]},"mark":{"type":"rect","opacity":0},"encoding":{}},
{"width":180,"height":143.7,"layer":[
{"data":{"name":"fit_c"},"mark":{"type":"area","color":"#ffe0e1"},"encoding":{"x":{"field":"x","type":"quantitative","scale":{"domain":[2,17],"range":[0,179],"nice":false,"zero":false},"axis":{"values":[2,3,4,5,6,7,8,9,10,11,12,13,14,15,16,17],"tickCount":100,"format":"d","labelExpr":"datum.value%2==0&&datum.value<17?datum.label:''","tickSize":{"condition":{"test":"datum.value%2==0","value":4},"value":2},"title":null,"labelPadding":1,"labelOverlap":false}},"y":{"field":"piLo","type":"quantitative","scale":{"domain":[-0.5,9],"nice":false,"zero":false},"axis":{"values":[0,0.5,1,1.5,2,2.5,3,3.5,4,4.5,5,5.5,6,6.5,7,7.5,8,8.5,9],"tickCount":100,"format":"d","labelExpr":"datum.value%1==0?datum.label:''","tickSize":{"condition":{"test":"datum.value%1==0","value":4},"value":2},"title":"ID_chr11_49276745_49276986","titleFontSize":12.5,"titleFontWeight":"normal","titleColor":"#444","titlePadding":7,"labelPadding":1,"labelOverlap":false}},"y2":{"field":"piHi"}}},
{"data":{"name":"fit_c"},"mark":{"type":"area","color":"#ff9fa0"},"encoding":{"x":{"field":"x","type":"quantitative"},"y":{"field":"ciLo","type":"quantitative"},"y2":{"field":"ciHi"}}},
{"data":{"name":"fit_c"},"mark":{"type":"line","color":"#ff6666","strokeWidth":1},"encoding":{"x":{"field":"x","type":"quantitative"},"y":{"field":"fit","type":"quantitative"}}},
{"data":{"name":"models"},"mark":{"type":"point","shape":"diamond","filled":true,"fill":"#a8d8fa","stroke":"#4a5ad0","strokeWidth":1,"opacity":1,"size":90},"encoding":{"x":{"field":"x","type":"quantitative"},"y":{"field":"c","type":"quantitative"}}},
{"data":{"values":[{"label":"r = -0.05","x":6.3,"y":5.87}]},"mark":{"type":"text","fontWeight":"bold","fontSize":14,"align":"left","baseline":"middle","color":"#0070c0"},"encoding":{"x":{"field":"x","type":"quantitative"},"y":{"field":"y","type":"quantitative"},"text":{"field":"label"}}},
{"data":{"values":[{"label":"P","x":6.3,"y":4.77}]},"mark":{"type":"text","fontStyle":"italic","fontSize":14.5,"align":"left","baseline":"middle","color":"#111"},"encoding":{"x":{"field":"x","type":"quantitative"},"y":{"field":"y","type":"quantitative"},"text":{"field":"label"}}},
{"data":{"values":[{"label":"= 0.84","x":7.45,"y":4.77}]},"mark":{"type":"text","fontSize":14.5,"align":"left","baseline":"middle","color":"#111"},"encoding":{"x":{"field":"x","type":"quantitative"},"y":{"field":"y","type":"quantitative"},"text":{"field":"label"}}},
{"data":{"values":[{"label":"c","x":-1.86,"y":9.13}]},"mark":{"type":"text","fontWeight":"bold","fontSize":30,"align":"center","baseline":"middle","color":"#000"},"encoding":{"x":{"field":"x","type":"quantitative"},"y":{"field":"y","type":"quantitative"},"text":{"field":"label"}}},
{"data":{"values":[{"x":-1.86,"y":4.51}]},"mark":{"type":"point","shape":"circle","filled":true,"fill":"#c8c8c8","stroke":"#000","strokeWidth":2.5,"opacity":1,"size":520},"encoding":{"x":{"field":"x","type":"quantitative"},"y":{"field":"y","type":"quantitative"}}}
]},
{"width":1,"height":39.3,"data":{"values":[{}]},"mark":{"type":"rect","opacity":0},"encoding":{}},
{"width":180,"height":143.7,"layer":[
{"data":{"name":"fit_d"},"mark":{"type":"area","color":"#ffe0e1"},"encoding":{"x":{"field":"x","type":"quantitative","scale":{"domain":[2,17],"range":[1,179.5],"nice":false,"zero":false},"axis":{"values":[2,3,4,5,6,7,8,9,10,11,12,13,14,15,16,17],"tickCount":100,"format":"d","labelExpr":"datum.value%2==0&&datum.value<17?datum.label:''","tickSize":{"condition":{"test":"datum.value%2==0","value":4},"value":2},"title":null,"labelPadding":1,"labelOverlap":false}},"y":{"field":"piLo","type":"quantitative","scale":{"domain":[-0.5,9],"nice":false,"zero":false},"axis":{"values":[0,0.5,1,1.5,2,2.5,3,3.5,4,4.5,5,5.5,6,6.5,7,7.5,8,8.5,9],"tickCount":100,"format":"d","labelExpr":"datum.value%1==0?datum.label:''","tickSize":{"condition":{"test":"datum.value%1==0","value":4},"value":2},"title":"ID_chr11_49304635_49305339","titleFontSize":12.5,"titleFontWeight":"normal","titleColor":"#444","titlePadding":7,"labelPadding":1,"labelOverlap":false,"offset":-1}},"y2":{"field":"piHi"}}},
{"data":{"name":"fit_d"},"mark":{"type":"area","color":"#ff9fa0"},"encoding":{"x":{"field":"x","type":"quantitative"},"y":{"field":"ciLo","type":"quantitative"},"y2":{"field":"ciHi"}}},
{"data":{"name":"fit_d"},"mark":{"type":"line","color":"#ff6666","strokeWidth":1},"encoding":{"x":{"field":"x","type":"quantitative"},"y":{"field":"fit","type":"quantitative"}}},
{"data":{"name":"models"},"mark":{"type":"point","shape":"diamond","filled":true,"fill":"#a8d8fa","stroke":"#4a5ad0","strokeWidth":1,"opacity":1,"size":90},"encoding":{"x":{"field":"x","type":"quantitative"},"y":{"field":"d","type":"quantitative"}}},
{"data":{"values":[{"label":"r = 0.752","x":10.43,"y":2.63}]},"mark":{"type":"text","fontWeight":"bold","fontSize":14,"align":"left","baseline":"middle","color":"#0070c0"},"encoding":{"x":{"field":"x","type":"quantitative"},"y":{"field":"y","type":"quantitative"},"text":{"field":"label"}}},
{"data":{"values":[{"label":"P","x":10.43,"y":1.54}]},"mark":{"type":"text","fontStyle":"italic","fontSize":14.5,"align":"left","baseline":"middle","color":"#111"},"encoding":{"x":{"field":"x","type":"quantitative"},"y":{"field":"y","type":"quantitative"},"text":{"field":"label"}}},
{"data":{"values":[{"label":"= 0.003","x":11.64,"y":1.54}]},"mark":{"type":"text","fontSize":14.5,"align":"left","baseline":"middle","color":"#111"},"encoding":{"x":{"field":"x","type":"quantitative"},"y":{"field":"y","type":"quantitative"},"text":{"field":"label"}}},
{"data":{"values":[{"label":"d","x":-1.95,"y":9.52}]},"mark":{"type":"text","fontWeight":"bold","fontSize":30,"align":"center","baseline":"middle","color":"#000"},"encoding":{"x":{"field":"x","type":"quantitative"},"y":{"field":"y","type":"quantitative"},"text":{"field":"label"}}},
{"data":{"values":[{"x":-1.78,"y":4.21}]},"mark":{"type":"point","shape":"circle","filled":true,"fill":"#ffd966","stroke":"#000","strokeWidth":2.5,"opacity":1,"size":520},"encoding":{"x":{"field":"x","type":"quantitative"},"y":{"field":"y","type":"quantitative"}}},
{"data":{"values":[{"x":19.12,"top":9.14,"bottom":-11.34}]},"mark":{"type":"rule","color":"#000","strokeWidth":1.5},"encoding":{"x":{"field":"x","type":"quantitative"},"y":{"field":"top","type":"quantitative"},"y2":{"field":"bottom"}}},
{"data":{"values":[{"label":"PSMA upstream enhancer","x":21.05,"y":-1.68}]},"mark":{"type":"text","fontSize":17,"angle":90,"align":"center","baseline":"middle","color":"#111"},"encoding":{"x":{"field":"x","type":"quantitative"},"y":{"field":"y","type":"quantitative"},"text":{"field":"label"}}}
]},
{"width":1,"height":33.3,"data":{"values":[{}]},"mark":{"type":"rect","opacity":0},"encoding":{}},
{"width":180,"height":143.7,"layer":[
{"data":{"name":"fit_e"},"mark":{"type":"area","color":"#ffe0e1"},"encoding":{"x":{"field":"x","type":"quantitative","scale":{"domain":[2,17],"range":[1.7,180.2],"nice":false,"zero":false},"axis":{"values":[2,3,4,5,6,7,8,9,10,11,12,13,14,15,16,17],"tickCount":100,"format":"d","labelExpr":"datum.value%2==0&&datum.value<17?datum.label:''","tickSize":{"condition":{"test":"datum.value%2==0","value":4},"value":2},"title":null,"labelPadding":1,"labelOverlap":false}},"y":{"field":"piLo","type":"quantitative","scale":{"domain":[-0.5,7],"nice":false,"zero":false},"axis":{"values":[0,0.5,1,1.5,2,2.5,3,3.5,4,4.5,5,5.5,6,6.5,7],"tickCount":100,"format":"d","labelExpr":"datum.value%1==0?datum.label:''","tickSize":{"condition":{"test":"datum.value%1==0","value":4},"value":2},"title":"ID_chr11_49306442_49306998","titleFontSize":12.5,"titleFontWeight":"normal","titleColor":"#444","titlePadding":7,"labelPadding":1,"labelOverlap":false,"offset":-1.7}},"y2":{"field":"piHi"}}},
{"data":{"name":"fit_e"},"mark":{"type":"area","color":"#ff9fa0"},"encoding":{"x":{"field":"x","type":"quantitative"},"y":{"field":"ciLo","type":"quantitative"},"y2":{"field":"ciHi"}}},
{"data":{"name":"fit_e"},"mark":{"type":"line","color":"#ff6666","strokeWidth":1},"encoding":{"x":{"field":"x","type":"quantitative"},"y":{"field":"fit","type":"quantitative"}}},
{"data":{"name":"models"},"mark":{"type":"point","shape":"diamond","filled":true,"fill":"#a8d8fa","stroke":"#4a5ad0","strokeWidth":1,"opacity":1,"size":90},"encoding":{"x":{"field":"x","type":"quantitative"},"y":{"field":"e","type":"quantitative"}}},
{"data":{"values":[{"label":"r = 0.865","x":9.48,"y":1.92}]},"mark":{"type":"text","fontWeight":"bold","fontSize":14,"align":"left","baseline":"middle","color":"#0070c0"},"encoding":{"x":{"field":"x","type":"quantitative"},"y":{"field":"y","type":"quantitative"},"text":{"field":"label"}}},
{"data":{"values":[{"label":"P","x":9.48,"y":1.0}]},"mark":{"type":"text","fontStyle":"italic","fontSize":14.5,"align":"left","baseline":"middle","color":"#111"},"encoding":{"x":{"field":"x","type":"quantitative"},"y":{"field":"y","type":"quantitative"},"text":{"field":"label"}}},
{"data":{"values":[{"label":"< 0.0001","x":10.6,"y":1.0}]},"mark":{"type":"text","fontSize":14.5,"align":"left","baseline":"middle","color":"#111"},"encoding":{"x":{"field":"x","type":"quantitative"},"y":{"field":"y","type":"quantitative"},"text":{"field":"label"}}},
{"data":{"values":[{"label":"e","x":-2.01,"y":7.26}]},"mark":{"type":"text","fontWeight":"bold","fontSize":30,"align":"center","baseline":"middle","color":"#000"},"encoding":{"x":{"field":"x","type":"quantitative"},"y":{"field":"y","type":"quantitative"},"text":{"field":"label"}}},
{"data":{"values":[{"x":-2.01,"y":3.29}]},"mark":{"type":"point","shape":"circle","filled":true,"fill":"#ff0000","stroke":"#000","strokeWidth":2.5,"opacity":1,"size":520},"encoding":{"x":{"field":"x","type":"quantitative"},"y":{"field":"y","type":"quantitative"}}},
{"data":{"values":[{"label":"FOLH1","x":3.2,"y":-2.46}]},"mark":{"type":"text","fontWeight":"bold","fontStyle":"italic","fontSize":14.5,"align":"left","baseline":"middle","color":"#111"},"encoding":{"x":{"field":"x","type":"quantitative"},"y":{"field":"y","type":"quantitative"},"text":{"field":"label"}}},
{"data":{"values":[{"label":"Expression","x":7.66,"y":-2.46}]},"mark":{"type":"text","fontWeight":"bold","fontSize":14.5,"align":"left","baseline":"middle","color":"#111"},"encoding":{"x":{"field":"x","type":"quantitative"},"y":{"field":"y","type":"quantitative"},"text":{"field":"label"}}},
{"data":{"values":[{"label":"log2(TPM+1)","x":8.92,"y":-3.97}]},"mark":{"type":"text","fontSize":14.5,"align":"center","baseline":"middle","color":"#111"},"encoding":{"x":{"field":"x","type":"quantitative"},"y":{"field":"y","type":"quantitative"},"text":{"field":"label"}}}
]}
]}
]}
